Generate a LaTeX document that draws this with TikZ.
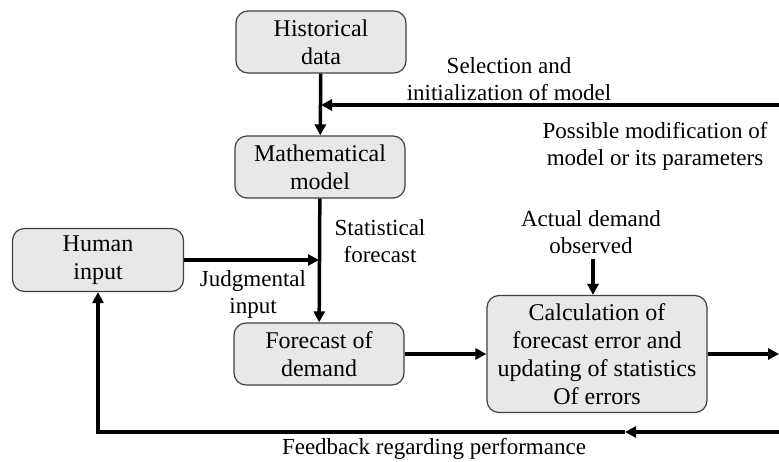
\documentclass[tikz,border=0pt]{standalone}
\usepackage{fontspec}
\setmainfont{Liberation Serif}
\usetikzlibrary{arrows.meta, positioning}
\tikzset{
flow/.style={line width=3.5pt, -{Triangle[length=11pt,width=11pt]}}, % thick arrows of the loop
stage/.style={draw=black!75, line width=1.2pt, fill=gray!18, rounded corners=12pt, align=center, font=\fontsize{24}{28}\selectfont, inner sep=2pt}, % grey boxes
note/.style={align=center, font=\fontsize{23}{27}\selectfont, inner sep=0pt}, % free labels beside the arrows
}

\begin{document}
\begin{tikzpicture}[x=1pt, y=-1pt]
            \useasboundingbox (0,0) rectangle (779,461);

            \node[stage, minimum width=170pt, minimum height=62pt] (hist) at (321,42) {Historical\\data};
            \node[stage, minimum width=170pt, minimum height=62pt] (model) at (320,167) {Mathematical\\model};
            \node[stage, minimum width=170pt, minimum height=62pt] (fcast) at (319,354) {Forecast of\\demand};
            \node[stage, minimum width=220pt, minimum height=117pt] (calc) at (597,354) {Calculation of\\forecast error and\\updating of statistics\\Of errors};
            \node[stage, minimum width=171pt, minimum height=63pt] (human) at (98,260) {Human\\input};

            \node[note] (select) at (509,79) {Selection and\\initialization of model};
            \node[note] (modify) at (655,146) {Possible modification of\\model or its parameters};
            \node[note] (stat) at (380,241) {Statistical\\forecast};
            \node[note] (actual) at (591,232) {Actual demand\\observed};
            \node[note] (judge) at (253,294) {Judgmental\\input};
            \node[note] (feed) at (434,449) {Feedback regarding performance};

            \coordinate (selR) at (779,105);
            \coordinate (outR) at (779,354);
            \coordinate (fbR) at (779,432);
            \coordinate (fbM) at (625,432);
            \coordinate (fbL) at (98,432);
            \coordinate (calcN) at ([xshift=-4pt]calc.north);
            \coordinate (obs) at ([yshift=-5pt]actual.south -| calcN);

            \draw[flow] (hist) -- (model);
            \draw[flow] (selR) -- (selR -| hist.south);
            \draw[flow] (model) -- (fcast);
            \draw[flow] (human.east) -- (human.east -| fcast.north);
            \draw[flow] (fcast) -- (calc);
            \draw[flow] (obs) -- (calcN);
            \draw[flow] (calc) -- (outR);
            \draw[flow] (fbR) -- (fbM);
            \draw[flow] (fbM) -- (fbL) -- (human);
\end{tikzpicture}
\end{document}
